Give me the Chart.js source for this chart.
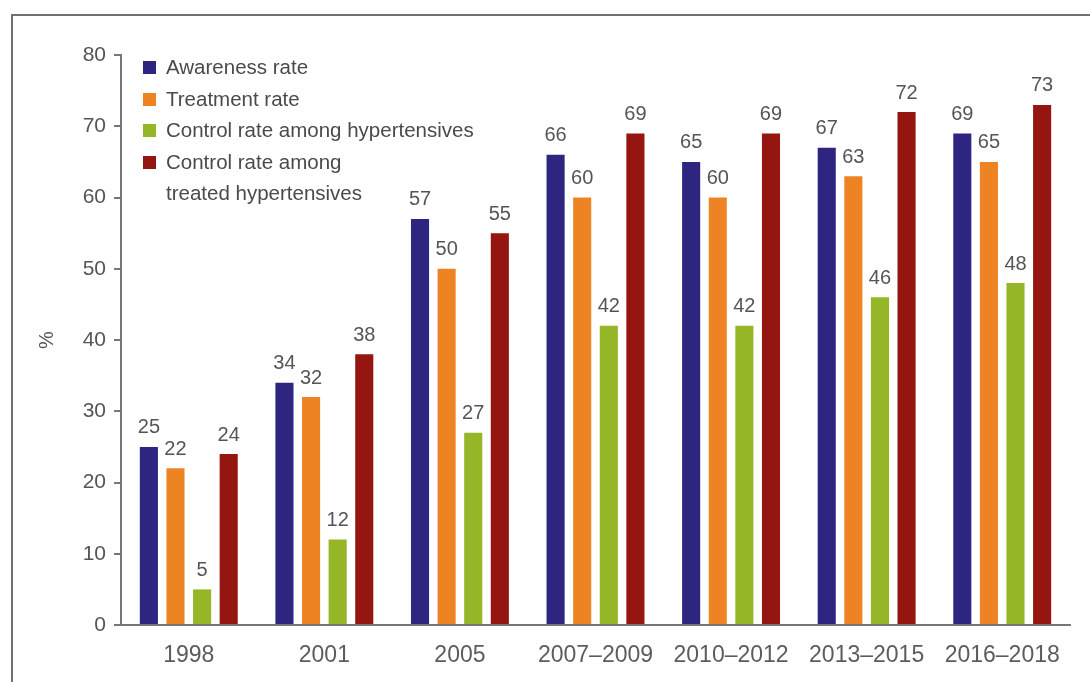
<!DOCTYPE html>
<html>
<head>
<meta charset="utf-8">
<script src="https://cdn.jsdelivr.net/npm/chart.js@4.4.1/dist/chart.umd.min.js"></script>
<style>
  html, body { margin:0; padding:0; background:#fff; }
  body { width:1090px; height:682px; position:relative; overflow:hidden; font-family:"Liberation Sans", Arial, sans-serif; }
  #frame { position:absolute; left:11px; top:14px; width:1100px; height:700px; border-top:2px solid #707070; border-left:2px solid #707070; }
  #wrap { position:absolute; left:0; top:0; width:1090px; height:682px; }
  #legend { position:absolute; left:143px; top:51px; color:#4a4a4a; font-size:20.5px; line-height:31.5px; }
  .lg-item { display:flex; align-items:flex-start; }
  .lg-box { width:13px; height:13px; margin-top:10px; margin-right:10px; flex:none; }
</style>
</head>
<body>
<div id="frame"></div>
<div id="wrap"><canvas id="chart" width="1090" height="682"></canvas></div>
<div id="legend"></div>
<script>
// categories and series
const periods   = ['1998', '2001', '2005', '2007–2009', '2010–2012', '2013–2015', '2016–2018'];
const awareness = [25, 34, 57, 66, 65, 67, 69];
const treatment = [22, 32, 50, 60, 60, 63, 65];
const control   = [5, 12, 27, 42, 42, 46, 48];
const controlTreated = [24, 38, 55, 69, 69, 72, 73];
const yTicks = [0, 10, 20, 30, 40, 50, 60, 70, 80];

const seriesNames  = ['Awareness rate', 'Treatment rate', 'Control rate among hypertensives', 'Control rate among\ntreated hypertensives'];
const seriesColors = ['#2e2581', '#ee8324', '#95b627', '#951510'];
const seriesData   = [awareness, treatment, control, controlTreated];

const textGray = '#555555';
const FONT = '"Liberation Sans", Arial, sans-serif';

// value labels above bars
const barLabels = {
  id: 'barLabels',
  afterDatasetsDraw(chart) {
    const ctx = chart.ctx;
    ctx.save();
    ctx.font = '20px ' + FONT;
    ctx.fillStyle = textGray;
    ctx.textAlign = 'center';
    ctx.textBaseline = 'bottom';
    chart.data.datasets.forEach((ds, i) => {
      chart.getDatasetMeta(i).data.forEach((bar, j) => {
        ctx.fillText(ds.data[j], bar.x, bar.y - 9);
      });
    });
    ctx.restore();
  }
};

const chart = new Chart(document.getElementById('chart'), {
  type: 'bar',
  data: {
    labels: periods,
    datasets: seriesData.map((d, i) => ({
      label: seriesNames[i],
      data: d,
      backgroundColor: seriesColors[i],
      borderWidth: 0,
      categoryPercentage: 0.785,
      barPercentage: 0.68
    }))
  },
  options: {
    responsive: false,
    animation: false,
    layout: { padding: { left: 0, right: 20, top: 55, bottom: 0 } },
    plugins: { legend: { display: false }, tooltip: { enabled: false } },
    scales: {
      x: {
        afterFit: s => { s.height = 57; },
        grid: { display: false },
        border: { display: true, color: '#777', width: 2 },
        ticks: { color: '#5c5c5c', font: { size: 23, family: FONT }, padding: 9, maxRotation: 0 }
      },
      y: {
        min: 0, max: 80,
        afterBuildTicks: s => { s.ticks = yTicks.map(v => ({ value: v })); },
        afterFit: s => { s.width = 121; },
        grid: { drawOnChartArea: false, drawTicks: true, tickLength: 7, color: '#777', lineWidth: 2 },
        border: { display: true, color: '#777', width: 2 },
        ticks: { color: textGray, font: { size: 21, family: FONT }, padding: 8 },
        title: { display: true, text: '%', color: textGray, font: { size: 20, family: FONT }, padding: { top: 35, bottom: 0 } }
      }
    }
  },
  plugins: [barLabels]
});

// legend inside plot area
document.getElementById('legend').innerHTML = seriesNames.map((n, i) =>
  '<div class="lg-item"><div class="lg-box" style="background:' + seriesColors[i] + '"></div>' +
  '<div>' + n.replace('\n', '<br>') + '</div></div>'
).join('');
</script>
</body>
</html>
